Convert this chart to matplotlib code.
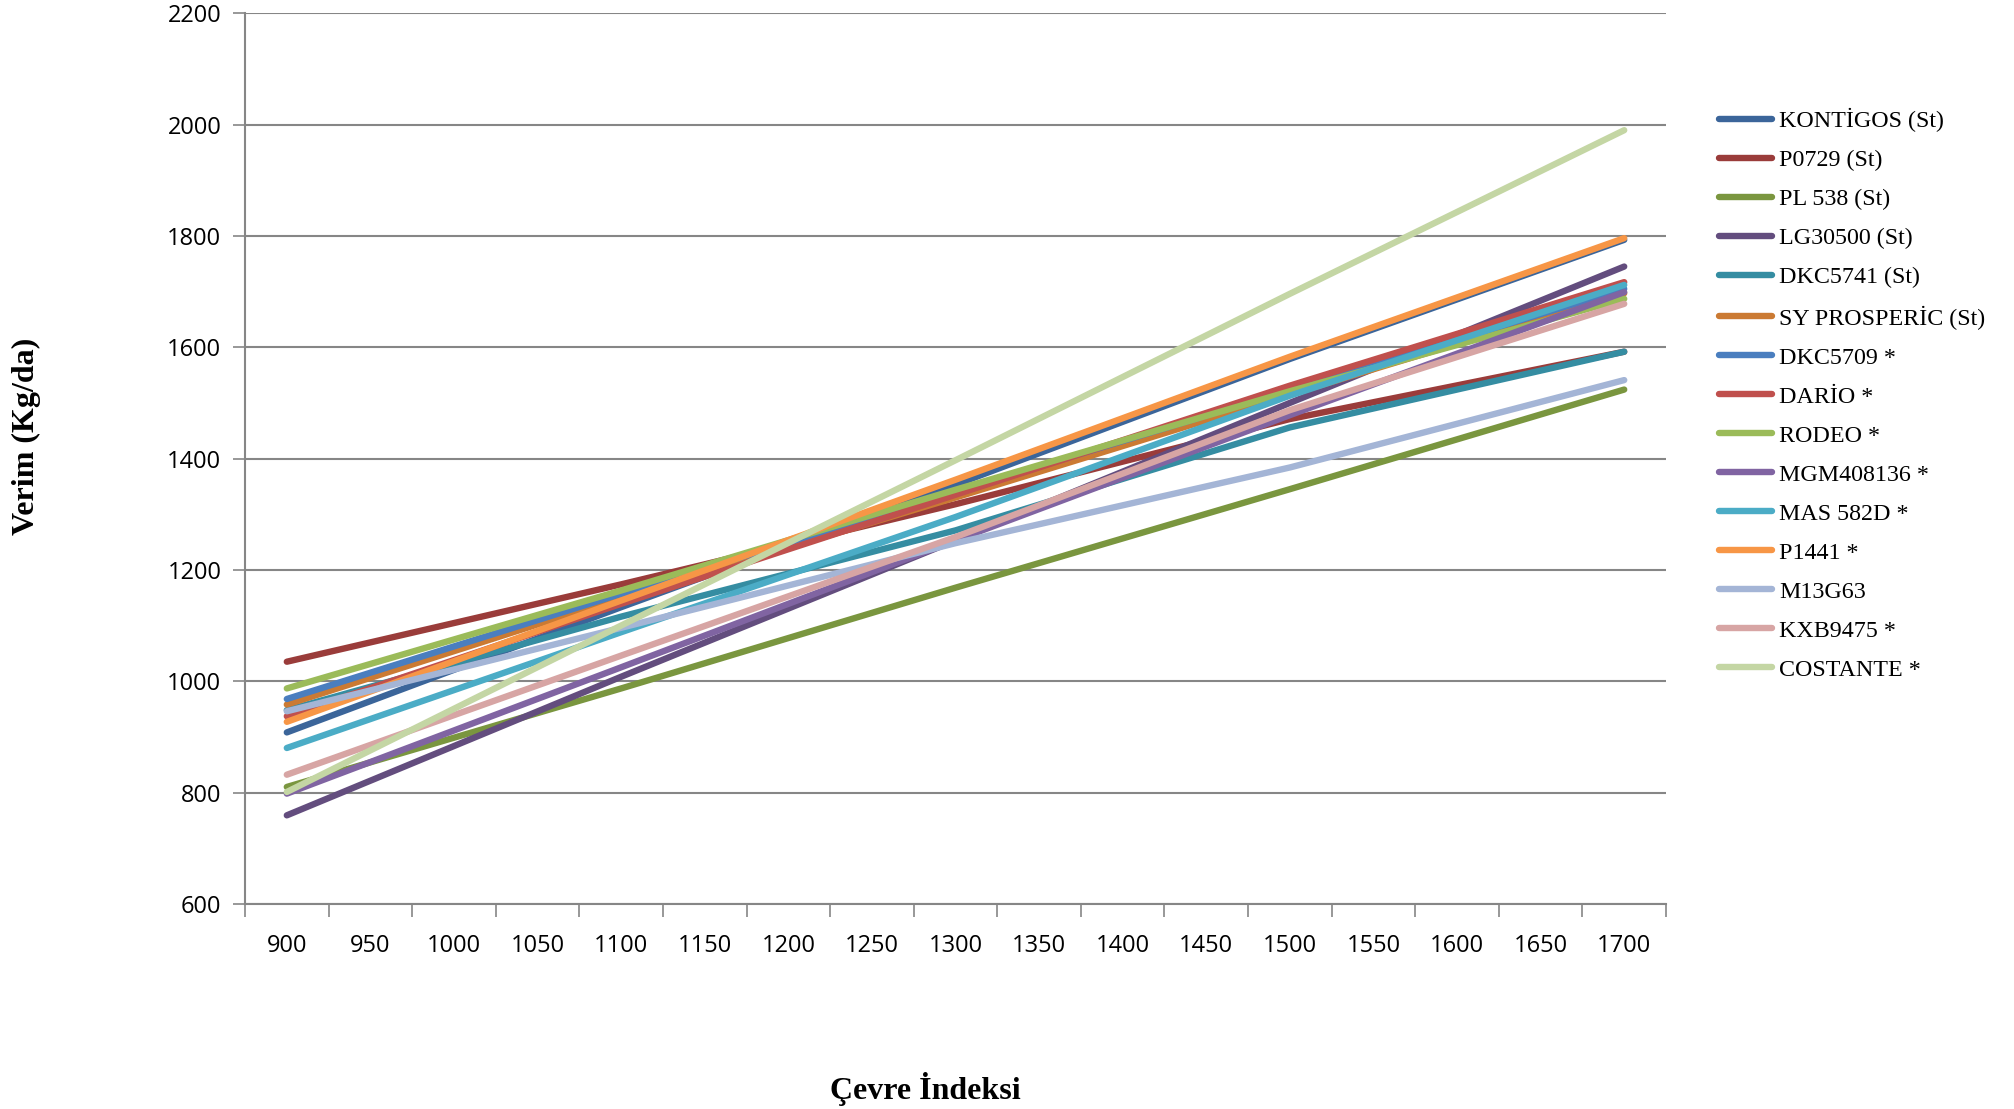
import numpy as np
import matplotlib
matplotlib.use("Agg")
from matplotlib import pyplot as plt

# category axis (Çevre İndeksi)
categories = [900, 950, 1000, 1050, 1100, 1150, 1200, 1250, 1300, 1350,
              1400, 1450, 1500, 1550, 1600, 1650, 1700]
# values read at these categories
read_at = [900, 1100, 1300, 1500, 1700]

names = ['KONTİGOS (St)', 'P0729 (St)', 'PL 538 (St)', 'LG30500 (St)',
         'DKC5741 (St)', 'SY PROSPERİC (St)', 'DKC5709 *', 'DARİO *',
         'RODEO *', 'MGM408136 *', 'MAS 582D *', 'P1441 *', 'M13G63',
         'KXB9475 *', 'COSTANTE *']

kontigos = [908, 1133, 1353, 1579, 1793]
p0729 = [1035, 1174, 1318, 1471, 1592]
pl538 = [810, 987, 1168, 1345, 1524]
lg30500 = [759, 1008, 1253, 1500, 1745]
dkc5741 = [948, 1116, 1271, 1456, 1592]
sy_prosperic = [958, 1150, 1330, 1515, 1697]
dkc5709 = [968, 1157, 1340, 1523, 1705]
dario = [937, 1139, 1335, 1531, 1717]
rodeo = [987, 1163, 1344, 1521, 1687]
mgm408136 = [798, 1025, 1253, 1478, 1699]
mas582d = [880, 1088, 1295, 1513, 1712]
p1441 = [927, 1145, 1362, 1583, 1796]
m13g63 = [946, 1096, 1248, 1384, 1541]
kxb9475 = [832, 1046, 1259, 1487, 1678]
costante = [801, 1100, 1397, 1696, 1990]

series = [kontigos, p0729, pl538, lg30500, dkc5741, sy_prosperic, dkc5709,
          dario, rodeo, mgm408136, mas582d, p1441, m13g63, kxb9475, costante]

colors = ['#3B659A', '#9A3C3A', '#7A963F', '#634D7E', '#358DA2', '#CB7A33',
          '#4A7EBF', '#C0504D', '#9BBB59', '#8064A2', '#4BACC6', '#F79646',
          '#A4B5D6', '#D7A5A4', '#C4D6A4']

tick_font = ['Liberation Sans Narrow', 'Open Sans', 'DejaVu Sans']
serif_font = ['Liberation Serif', 'DejaVu Serif']

fig = plt.figure(figsize=(20.15, 11.09), dpi=100)
ax = fig.add_axes([0.1216, 0.185, 0.7052, 0.803])

xpos = [categories.index(c) for c in read_at]
for name, vals, col in zip(names, series, colors):
    ax.plot(xpos, vals, color=col, lw=4.6, solid_capstyle='round',
            solid_joinstyle='round', label=name)

ax.set_xlim(-0.5, len(categories) - 0.5)
ax.set_ylim(600, 2200)
ax.set_yticks(np.arange(600, 2201, 200))
ax.grid(axis='y', color='#868686', lw=1.5)
ax.set_axisbelow(True)

# ticks between categories, labels centred
ax.set_xticks(np.arange(-0.5, len(categories), 1.0))
ax.set_xticklabels([])
ax.set_xticks(np.arange(len(categories)), minor=True)
ax.set_xticklabels([str(c) for c in categories], minor=True)
ax.tick_params(axis='x', which='major', length=9, width=1.2, color='#868686', direction='out')
ax.tick_params(axis='x', which='minor', length=0, pad=22)
ax.tick_params(axis='y', length=9, width=1.2, color='#868686', pad=8)
for lab in ax.get_xticklabels(minor=True) + ax.get_yticklabels():
    lab.set_family(tick_font)
    lab.set_fontsize(17)

for side in ['top', 'right']:
    ax.spines[side].set_visible(False)
for side in ['left', 'bottom']:
    ax.spines[side].set_color('#868686')
    ax.spines[side].set_linewidth(1.5)

fig.text(0.013, 0.6065, 'Verim (Kg/da)', rotation=90, ha='center', va='center',
         family=serif_font, fontweight='bold', fontsize=23)
fig.text(0.4594, 0.018, 'Çevre İndeksi', ha='center', va='center',
         family=serif_font, fontweight='bold', fontsize=23)

leg = ax.legend(loc='upper left', bbox_to_anchor=(0.8424, 0.922),
                bbox_transform=fig.transFigure, frameon=False,
                prop={'family': serif_font, 'size': 17.3},
                handlelength=2.2, handletextpad=0.3, labelspacing=0.715)

fig.savefig('out.png', dpi=100)
